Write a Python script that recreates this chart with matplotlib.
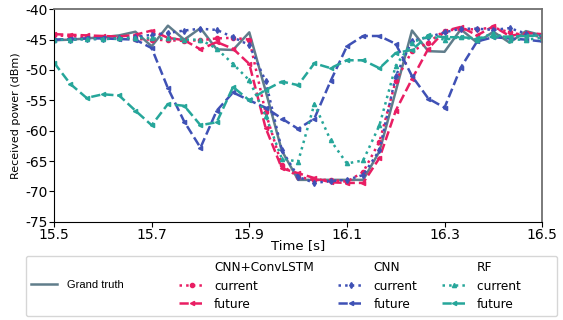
import matplotlib
matplotlib.use("Agg")
import matplotlib.pyplot as plt
from matplotlib.lines import Line2D
import numpy as np

plt.rcParams['axes.unicode_minus'] = False

# time axis: 30 samples per second
time_s = np.round(15.5 + np.arange(31) / 30, 4)

grand_truth = [-45.1, -45.0, -44.8, -44.6, -44.3, -43.7, -46.1, -42.7, -45.0, -43.1,
               -46.6, -46.7, -43.8, -53.4, -63.3, -68.1, -68.1, -68.1, -68.1, -68.1,
               -63.4, -53.5, -43.5, -46.9, -47.0, -43.3, -45.5, -43.7, -45.5, -43.6, -44.3]

convlstm_current = [-44.3, -44.4, -44.6, -44.7, -44.8, -44.9, -45.0, -45.1, -45.2, -45.1,
                    -44.8, -44.7, -45.0, -57.0, -65.7, -67.6, -68.1, -68.1, -68.4, -66.8,
                    -61.8, -51.8, -46.9, -45.5, -43.5, -43.3, -43.3, -43.0, -43.8, -44.3, -44.5]
convlstm_future = [-44.1, -44.2, -44.3, -44.4, -44.5, -44.2, -43.5, -44.7, -45.1, -46.6,
                   -45.4, -46.5, -49.0, -59.5, -66.2, -67.0, -67.8, -68.5, -68.6, -68.6,
                   -64.5, -56.7, -51.5, -46.5, -43.6, -42.9, -44.3, -42.8, -44.4, -43.9, -44.1]

cnn_current = [-45.0, -45.0, -44.9, -44.9, -44.8, -44.6, -44.2, -43.9, -43.5, -43.2,
               -43.4, -44.6, -45.9, -51.8, -63.2, -67.6, -68.6, -68.3, -68.1, -67.3,
               -63.2, -51.0, -45.2, -44.6, -43.8, -43.2, -43.2, -43.4, -43.1, -44.0, -44.4]
cnn_future = [-45.0, -44.9, -44.8, -44.8, -44.9, -45.0, -46.4, -53.0, -58.5, -62.8,
              -56.7, -53.7, -55.0, -56.2, -58.0, -59.7, -58.0, -51.8, -46.1, -44.4,
              -44.4, -45.7, -51.0, -54.7, -56.2, -49.6, -45.3, -44.6, -44.8, -45.0, -45.3]

rf_current = [-45.0, -45.0, -44.9, -44.9, -44.8, -44.7, -44.8, -44.8, -45.0, -45.0,
              -46.5, -49.0, -51.7, -57.5, -64.6, -65.1, -55.6, -61.6, -65.4, -64.9,
              -59.1, -49.3, -45.5, -44.4, -45.0, -44.6, -45.0, -43.9, -45.0, -45.0, -44.7]
rf_future = [-48.8, -52.3, -54.6, -54.0, -54.2, -56.7, -59.1, -55.6, -55.9, -59.1,
             -58.6, -52.8, -55.0, -53.3, -51.9, -52.5, -48.9, -49.7, -48.4, -48.4,
             -49.7, -47.2, -46.7, -44.3, -44.6, -44.6, -44.8, -44.5, -44.5, -44.4, -44.3]

x_ticks = [15.5, 15.7, 15.9, 16.1, 16.3, 16.5]
y_ticks = [-40, -45, -50, -55, -60, -65, -70, -75]

c_truth = '#607D8B'
c_pink = '#E91E63'
c_blue = '#3F51B5'
c_teal = '#26A69A'

fig = plt.figure(figsize=(5.63, 3.2), dpi=100)
ax = fig.add_axes([0.096, 0.307, 0.867, 0.664])

lw = 1.8
ms = 3
ax.plot(time_s, grand_truth, '-', color=c_truth, lw=lw)
ax.plot(time_s, convlstm_current, ':', color=c_pink, lw=lw, marker='o', ms=ms)
ax.plot(time_s, convlstm_future, '--', color=c_pink, lw=lw, marker='<', ms=ms)
ax.plot(time_s, cnn_current, ':', color=c_blue, lw=lw, marker='d', ms=ms)
ax.plot(time_s, cnn_future, '--', color=c_blue, lw=lw, marker='<', ms=ms)
ax.plot(time_s, rf_current, ':', color=c_teal, lw=lw, marker='^', ms=ms)
ax.plot(time_s, rf_future, '--', color=c_teal, lw=lw, marker='<', ms=ms)

ax.set_xlim(15.5, 16.5)
ax.set_ylim(-75, -40)
ax.set_xticks(x_ticks)
ax.set_yticks(y_ticks)
ax.tick_params(labelsize=10, pad=1)
ax.set_xlabel('Time [s]', fontsize=9.5, labelpad=-2)
ax.set_ylabel('Received power (dBm)', fontsize=8, labelpad=3)
for s in ['top', 'right']:
    ax.spines[s].set_color('#707070')
    ax.spines[s].set_linewidth(1.3)

blank = Line2D([], [], linestyle='none')
h_truth = Line2D([], [], color=c_truth, lw=lw)
def hdl(c, ls, m):
    return Line2D([], [], color=c, ls=ls, lw=lw, marker=m, ms=ms)

handles = [blank, h_truth, blank,
           blank, hdl(c_pink, ':', 'o'), hdl(c_pink, '--', '<'),
           blank, hdl(c_blue, ':', 'd'), hdl(c_blue, '--', '<'),
           blank, hdl(c_teal, ':', '^'), hdl(c_teal, '--', '<')]
labels = ['', 'Grand truth' + ' ' * 10, '',
          'CNN+ConvLSTM', 'current', 'future',
          'CNN', 'current', 'future',
          'RF', 'current' + ' ' * 8, 'future']
leg = fig.legend(handles, labels, ncol=4, loc='upper left',
                 bbox_to_anchor=(0.046, 0.2), borderaxespad=0, fontsize=8.75,
                 handlelength=2.1, handletextpad=0.8, columnspacing=2.0,
                 labelspacing=0.42, borderpad=0.45, frameon=True)
leg.get_texts()[1].set_fontfamily('Liberation Sans')
leg.get_texts()[1].set_fontsize(8)

fig.savefig('out.png', dpi=100)
